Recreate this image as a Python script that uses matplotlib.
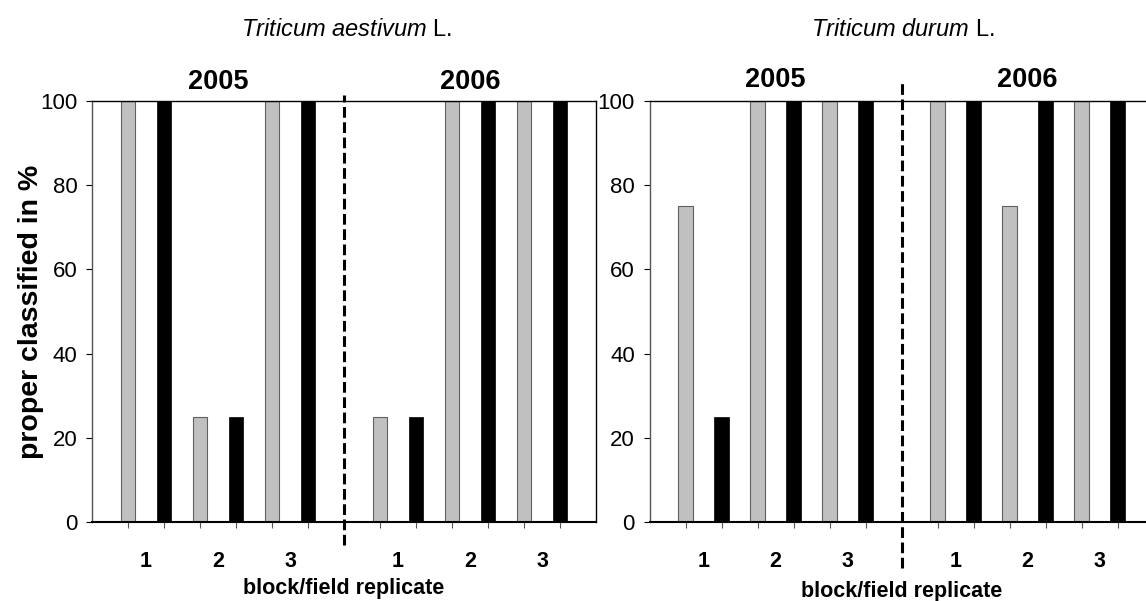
import matplotlib
matplotlib.use("Agg")
import matplotlib.pyplot as plt
import numpy as np

plt.rcParams['font.family'] = ['Liberation Sans', 'DejaVu Sans']
plt.rcParams['mathtext.fontset'] = 'custom'
plt.rcParams['mathtext.it'] = 'Liberation Sans:italic'
plt.rcParams['mathtext.rm'] = 'Liberation Sans'

# Data: proper classified in % per block/field replicate (grey series, black series)
blocks = ['1', '2', '3']
years = ['2005', '2006']
aestivum_grey_2005 = [100, 25, 100]
aestivum_black_2005 = [100, 25, 100]
aestivum_grey_2006 = [25, 100, 100]
aestivum_black_2006 = [25, 100, 100]
durum_grey_2005 = [75, 100, 100]
durum_black_2005 = [25, 100, 100]
durum_grey_2006 = [100, 75, 100]
durum_black_2006 = [100, 100, 100]
yticks = [0, 20, 40, 60, 80, 100]

W, H = 1146, 601
fig = plt.figure(figsize=(W / 100, H / 100), dpi=100)

def px_axes(x0, x1, ytop, ybot):
    return [x0 / W, 1 - ybot / H, (x1 - x0) / W, (ybot - ytop) / H]

ax1 = fig.add_axes(px_axes(92, 596, 101, 522))
ax2 = fig.add_axes(px_axes(649.5, 1153.5, 101, 522))

grey_pos = np.array([0, 2, 4, 7, 9, 11])
black_pos = grey_pos + 1
centers = grey_pos + 0.5
all_pos = np.sort(np.concatenate([grey_pos, black_pos]))

def draw(ax, g05, b05, g06, b06, title, ylab_y, title_x, dash_lo, dash_hi, xlab_y, xlab_x):
    grey = list(g05) + list(g06)
    black = list(b05) + list(b06)
    ax.bar(grey_pos, grey, width=0.4, color='#c0c0c0', edgecolor='#606060', linewidth=0.8, zorder=2)
    ax.bar(black_pos, black, width=0.4, color='black', edgecolor='black', linewidth=0.5, zorder=2)
    ax.set_xlim(-1, 13)
    ax.set_ylim(0, 100)
    ax.set_yticks(yticks)
    ax.set_yticklabels([str(v) for v in yticks], fontsize=16)
    ax.tick_params(axis='y', direction='out', length=4, width=0.8, pad=6.5, colors='black')
    ax.set_xticks(all_pos)
    ax.set_xticklabels([])
    ax.tick_params(axis='x', which='major', direction='out', length=4, width=0.8, color='#555555')
    ax.set_xticks(centers, minor=True)
    ax.set_xticklabels(blocks * 2, minor=True, fontsize=15.5, fontweight='bold')
    ax.tick_params(axis='x', which='minor', length=0, pad=21)
    for s in ['top', 'right']:
        ax.spines[s].set_linewidth(1.0)
        ax.spines[s].set_color('black')
    ax.spines['bottom'].set_linewidth(1.5)
    ax.spines['left'].set_linewidth(1.0)
    ax.spines['left'].set_color('#555555')
    ax.axvline(6, ymin=dash_lo, ymax=dash_hi, color='black', linewidth=2.2,
               linestyle=(0, (3.5, 1.5)), clip_on=False, zorder=3)
    tr = ax.get_xaxis_transform()
    ax.text(2.5, ylab_y, years[0], transform=tr, ha='center', va='center',
            fontsize=19.5, fontweight='bold')
    ax.text(9.5, ylab_y, years[1], transform=tr, ha='center', va='center',
            fontsize=19.5, fontweight='bold')
    ax.text(title_x, 1.169, title, transform=ax.transAxes, ha='center', va='center', fontsize=17)
    ax.text(xlab_x, xlab_y, 'block/field replicate', transform=ax.transAxes,
            ha='center', va='center', fontsize=15.5, fontweight='bold')

draw(ax1, aestivum_grey_2005, aestivum_black_2005, aestivum_grey_2006, aestivum_black_2006,
     r'$\mathit{Triticum\ aestivum}$ L.', 1.045, 0.505, -0.055, 1.014, -0.157, 0.5)
draw(ax2, durum_grey_2005, durum_black_2005, durum_grey_2006, durum_black_2006,
     r'$\mathit{Triticum\ durum}$ L.', 1.051, 0.503, -0.109, 1.045, -0.164, 0.501)

fig.text(31 / W, 1 - 311.5 / H, 'proper classified in %', rotation=90,
         ha='center', va='center', fontsize=20.5, fontweight='bold')

fig.savefig('out.png', dpi=100)
